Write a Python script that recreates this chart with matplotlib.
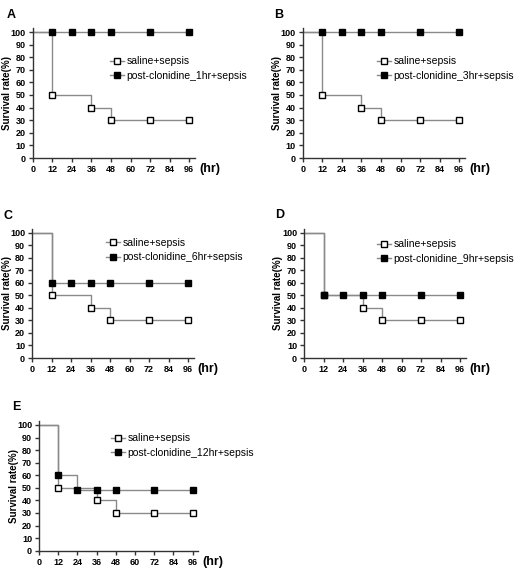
import numpy as np
import matplotlib
matplotlib.use('Agg')
from matplotlib import pyplot as plt
from matplotlib.lines import Line2D
from matplotlib import transforms

plt.rcParams['font.family'] = ['Liberation Sans', 'DejaVu Sans']

W, H = 527, 568

## data: step curves (time in hr, survival in %)
saline_t = [0, 12, 36, 48, 96]
saline_s = [100, 50, 40, 30, 30]
saline_mt = [12, 36, 48, 72, 96]
saline_ms = [50, 40, 30, 30, 30]

post_mt = [12, 24, 36, 48, 72, 96]
post_t = {'A': [0, 12, 96], 'B': [0, 12, 96], 'C': [0, 12, 96],
          'D': [0, 12, 96], 'E': [0, 12, 24, 96]}
post_s = {'A': [100, 100, 100], 'B': [100, 100, 100], 'C': [100, 60, 60],
          'D': [100, 50, 50], 'E': [100, 60, 48, 48]}
post_ms = {'A': [100, 100, 100, 100, 100, 100],
           'B': [100, 100, 100, 100, 100, 100],
           'C': [60, 60, 60, 60, 60, 60],
           'D': [50, 50, 50, 50, 50, 50],
           'E': [60, 48, 48, 48, 48, 48]}
post_labels = {'A': 'post-clonidine_1hr+sepsis', 'B': 'post-clonidine_3hr+sepsis',
               'C': 'post-clonidine_6hr+sepsis', 'D': 'post-clonidine_9hr+sepsis',
               'E': 'post-clonidine_12hr+sepsis'}

xticks = [0, 12, 24, 36, 48, 60, 72, 84, 96]
yticks = list(range(0, 101, 10))

## pixel layout: x0 px, x96 px, y0 px, y100 px, panel letter pos, legend pos, ylabel x
layout = {
    'A': (32.7, 189.3, 158, 32, (7, 15), (110, 68.5), 7),
    'B': (302.7, 459.3, 158, 32, (274, 15), (377, 68.5), 277),
    'C': (32, 188, 358, 232.7, (4, 216), (106, 250), 7),
    'D': (304, 460, 358, 232.7, (275, 215), (377, 251.5), 278),
    'E': (39, 192.7, 550.7, 425, (12, 407), (111, 445.5), 14),
}

grey = '#8a8a8a'
fig = plt.figure(figsize=(W / 100, H / 100), dpi=100)

for key in ['A', 'B', 'C', 'D', 'E']:
    x0, x96, y0, y100, lab, leg, ylx = layout[key]
    sx = (x96 - x0) / 96.0
    sy = (y0 - y100) / 100.0
    xmax, ymax = 99.5, 103
    ax = fig.add_axes([x0 / W, 1 - y0 / H, xmax * sx / W, ymax * sy / H])
    ax.set_xlim(0, xmax)
    ax.set_ylim(0, ymax)

    ax.step(saline_t, saline_s, where='post', color=grey, lw=1, zorder=2)
    ax.step(post_t[key], post_s[key], where='post', color=grey, lw=1, zorder=2)
    ax.plot(saline_mt, saline_ms, ls='none', marker='s', ms=5, mfc='white',
            mec='black', mew=1, zorder=3, clip_on=False)
    ax.plot(post_mt, post_ms[key], ls='none', marker='s', ms=5, mfc='black',
            mec='black', mew=1, zorder=4, clip_on=False)

    for s in ['top', 'right']:
        ax.spines[s].set_visible(False)
    for s in ['left', 'bottom']:
        ax.spines[s].set_color('#333333')
        ax.spines[s].set_linewidth(1)
    ax.set_xticks(xticks)
    ax.set_yticks(yticks)
    ax.tick_params(length=3, width=1, color='#333333', pad=2, labelsize=6.5)
    for t in ax.get_xticklabels() + ax.get_yticklabels():
        t.set_fontweight('bold')
    ax.set_ylabel('Survival rate(%)', fontsize=7, fontweight='bold', va='center')
    ax.yaxis.set_label_coords(ylx / W, 0.5,
                              transform=transforms.blended_transform_factory(fig.transFigure, ax.transAxes))
    ax.text(102, -8.7, '(hr)', fontsize=9, fontweight='bold', va='center', ha='left')

    fig.text(lab[0] / W, 1 - lab[1] / H, key, fontsize=9, fontweight='bold',
             va='center', ha='left')

    handles = [Line2D([], [], color=grey, lw=1, marker='s', ms=5, mfc='white', mec='black'),
               Line2D([], [], color=grey, lw=1, marker='s', ms=5, mfc='black', mec='black')]
    fig.legend(handles, ['saline+sepsis', post_labels[key]], loc='center left',
               bbox_to_anchor=(leg[0] / W, 1 - leg[1] / H), frameon=False,
               fontsize=7.5, handlelength=1.3, handletextpad=0.3, labelspacing=0.45,
               borderpad=0, borderaxespad=0)

fig.savefig('out.png', dpi=100)
